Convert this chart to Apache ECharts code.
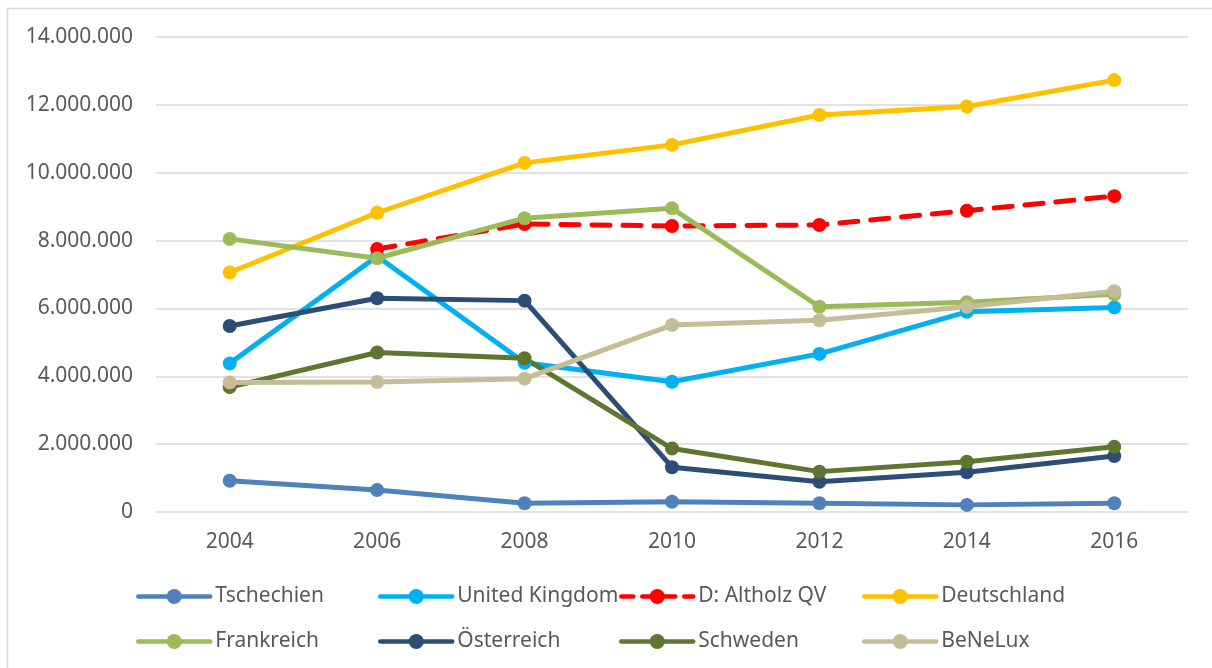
<!DOCTYPE html>
<html>
<head>
<meta charset="utf-8">
<script src="https://cdn.jsdelivr.net/npm/echarts@6/dist/echarts.min.js"></script>
<style>
html,body{margin:0;padding:0;background:#fff;}
#chart{width:1212px;height:668px;}
</style>
</head>
<body>
<div id="chart"></div>
<script>
var years = ['2004','2006','2008','2010','2012','2014','2016'];
var tschechien = [920000, 650000, 260000, 300000, 260000, 210000, 260000];
var unitedKingdom = [4380000, 7540000, 4400000, 3840000, 4660000, 5900000, 6030000];
var altholzQV = [null, 7750000, 8490000, 8430000, 8460000, 8880000, 9310000];
var deutschland = [7060000, 8820000, 10290000, 10820000, 11700000, 11950000, 12730000];
var frankreich = [8050000, 7480000, 8660000, 8950000, 6050000, 6180000, 6420000];
var oesterreich = [5480000, 6300000, 6230000, 1320000, 890000, 1170000, 1650000];
var schweden = [3680000, 4700000, 4530000, 1870000, 1190000, 1480000, 1920000];
var benelux = [3820000, 3830000, 3930000, 5510000, 5650000, 6050000, 6510000];
var yTicks = [0, 2000000, 4000000, 6000000, 8000000, 10000000, 12000000, 14000000];

var FONT = '"Noto Sans", sans-serif';
var TXT = '#595959';

function fmt(v){ return String(v).replace(/\B(?=(\d{3})+(?!\d))/g, '.'); }

var seriesDefs = [
  {name:'Tschechien', data:tschechien, color:'#4F81BD'},
  {name:'United Kingdom', data:unitedKingdom, color:'#00B0F0'},
  {name:'D: Altholz QV', data:altholzQV, color:'#FF0000', dashed:true},
  {name:'Deutschland', data:deutschland, color:'#FFC000'},
  {name:'Frankreich', data:frankreich, color:'#9BBB59'},
  {name:'Österreich', data:oesterreich, color:'#2C4D75'},
  {name:'Schweden', data:schweden, color:'#5F7530'},
  {name:'BeNeLux', data:benelux, color:'#C4BD97'}
];

var series = seriesDefs.map(function(s){
  return {
    name: s.name,
    type: 'line',
    data: s.data,
    symbol: 'circle',
    symbolSize: 14,
    showSymbol: true,
    connectNulls: false,
    animation: false,
    itemStyle: {color: s.color},
    lineStyle: {color: s.color, width: 5, type: s.dashed ? [18, 13] : 'solid', cap: 'round'}
  };
});

var colLeft = [136, 378, 619, 862];
var rowTop = [586, 631];
var legends = seriesDefs.map(function(s, i){
  return {
    data: [s.name],
    left: colLeft[i % 4],
    top: rowTop[Math.floor(i / 4)],
    itemWidth: 72,
    itemHeight: 19,
    padding: 0,
    lineStyle: {width: 4.5, type: s.dashed ? [12, 9] : 'solid', cap: 'round'},
    textStyle: {fontFamily: FONT, fontSize: 21, color: TXT},
    selectedMode: false
  };
});

var chart = echarts.init(document.getElementById('chart'), null, {renderer:'canvas'});
chart.setOption({
  backgroundColor: '#fff',
  animation: false,
  graphic: [{
    type: 'rect',
    shape: {x: 7.5, y: 8.5, width: 1220, height: 680},
    style: {fill: 'none', stroke: '#D9D9D9', lineWidth: 1.5},
    silent: true,
    z: -10
  }],
  legend: legends,
  grid: {left: 156, right: 24, top: 37, bottom: 156, containLabel: false},
  xAxis: {
    type: 'category',
    data: years,
    boundaryGap: true,
    axisLine: {show: false},
    axisTick: {show: false},
    axisLabel: {fontFamily: FONT, fontSize: 21, color: TXT, margin: 20}
  },
  yAxis: {
    type: 'value',
    min: 0,
    max: 14000000,
    interval: 2000000,
    axisLine: {show: false},
    axisTick: {show: false},
    axisLabel: {fontFamily: FONT, fontSize: 21, color: TXT, margin: 23, formatter: function(v){ return fmt(v); }},
    splitLine: {show: true, lineStyle: {color: '#D9D9D9', width: 1.5}}
  },
  series: series
});
</script>
</body>
</html>
